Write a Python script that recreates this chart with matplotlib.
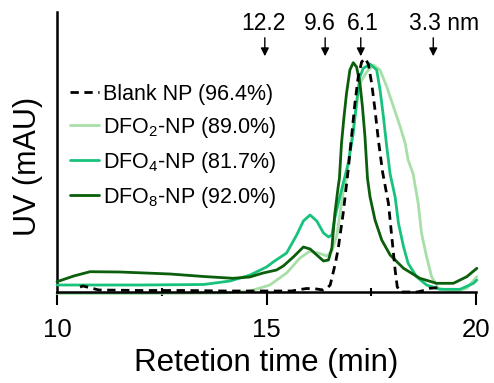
import matplotlib
matplotlib.use("Agg")
import matplotlib.pyplot as plt

plt.rcParams['font.family'] = ['Liberation Sans', 'DejaVu Sans']
plt.rcParams['mathtext.fontset'] = 'custom'
plt.rcParams['mathtext.rm'] = 'Liberation Sans'
plt.rcParams['mathtext.default'] = 'regular'

# ---- data (retention time in min, UV in arbitrary units) ----
blank_t = [10.55, 10.62, 11.0, 12.0, 13.0, 14.0, 15.0, 15.6, 15.8, 15.96, 16.2, 16.35, 16.45, 16.52,
           16.56, 16.64, 16.71, 16.83, 16.95, 17.03, 17.11, 17.19, 17.27, 17.35, 17.43, 17.51, 17.59,
           17.67, 17.77, 17.91, 17.99, 18.07, 18.12, 18.19, 18.6, 18.8, 18.9, 19.2]
blank_v = [5, 6, 2, 1.5, 1.5, 1, 1, 1, 2.5, 3.5, 3, 2, 4, 7,
           14, 28, 43, 78.7, 122, 155.3, 188.7, 215.3, 230, 233.7, 228, 208.7, 182,
           152, 120, 88.7, 55.3, 22, 5.3, 0, 0, 2, 3.7, 4.7]

dfo2_t = [10.0, 12.0, 14.0, 14.61, 15.08, 15.48, 15.8, 16.04, 16.24, 16.44, 16.56, 16.68, 16.75,
          16.83, 16.91, 16.99, 17.11, 17.23, 17.39, 17.55, 17.71, 17.87, 18.03, 18.19, 18.31,
          18.38, 18.5, 18.62, 18.70, 18.82, 18.94, 19.10, 19.46, 19.78, 20.02]
dfo2_v = [-1.5, -1.5, -1, 1, 7, 19, 34, 41, 39, 36, 41, 57, 77,
          100, 113.7, 142, 175.3, 208.7, 220, 227, 222, 205.3, 185.3, 165.3, 148.7,
          132, 118, 88.7, 58.7, 35.3, 15.3, 3.7, 0.3, 3.7, 15.3]

dfo4_t = [10.0, 12.0, 13.5, 14.13, 14.61, 15.0, 15.16, 15.48, 15.72, 15.88, 16.04, 16.2, 16.36,
          16.48, 16.56, 16.63, 16.75, 16.95, 17.07, 17.15, 17.23, 17.31, 17.47, 17.63, 17.71,
          17.79, 17.87, 17.95, 18.07, 18.15, 18.27, 18.38, 18.58, 18.82, 19.14, 19.62, 19.94, 20.02]
dfo4_v = [7, 7, 7.5, 11, 17, 25, 30, 39, 57, 71, 77, 71, 59,
          55, 57, 74, 95, 128.7, 158.7, 190, 215.3, 223.7, 228, 222, 202,
          175.3, 145.3, 118, 95, 68.7, 45.3, 28.7, 15.3, 7, 2.7, 2.7, 8.7, 12]

dfo8_t = [10.0, 10.4, 10.79, 11.5, 12.7, 13.5, 14.2, 14.6, 14.92, 15.24, 15.4, 15.64, 15.88, 16.04,
          16.2, 16.36, 16.48, 16.56, 16.63, 16.71, 16.74, 16.79, 16.85, 16.91, 16.99, 17.07, 17.15,
          17.23, 17.29, 17.35, 17.41, 17.47, 17.59, 17.75, 17.95, 18.27, 18.66, 19.06, 19.46, 19.78, 20.02]
dfo8_v = [10.3, 16, 20.3, 20, 18, 15.5, 13.7, 15, 19, 22, 26, 35, 45, 43,
          37, 31, 32, 44, 78, 105, 113.7, 148.7, 175.3, 198.7, 222, 229.3, 225,
          208.7, 185.3, 155.3, 113.7, 95.3, 72, 52, 37, 23.7, 13.7, 8.7, 8.7, 15.3, 23.7]

series_labels = ['Blank NP (96.4%)', 'DFO$_2$-NP (89.0%)', 'DFO$_4$-NP (81.7%)', 'DFO$_8$-NP (92.0%)']
arrow_x = [14.96, 16.40, 17.25, 18.98]
size_labels = ['12.2', '9.6', '6.1', '3.3 nm']
label_x = [14.92, 16.28, 17.31, 18.41]

# ---- figure ----
fig = plt.figure(figsize=(4.94, 3.83), dpi=100)
ax = fig.add_axes([57/494, 1-292/383, (476-57)/494, (292-12)/383])

kw = dict(lw=2.0, clip_on=False, solid_joinstyle='round', solid_capstyle='round')
ax.plot(blank_t, blank_v, color='black', linestyle=(0, (3, 2)), label=series_labels[0], zorder=5,
        lw=2.0, clip_on=False)
ax.plot(dfo2_t, dfo2_v, color='#a8dfa8', label=series_labels[1], zorder=2, **kw)
ax.plot(dfo4_t, dfo4_v, color='#17c27c', label=series_labels[2], zorder=3, **kw)
ax.plot(dfo8_t, dfo8_v, color='#0b5e0b', label=series_labels[3], zorder=4, **kw)

ax.set_xlim(10, 20)
ax.set_ylim(0, 280)
ax.set_xticks([10, 15, 20])
ax.set_xticks([12.5, 17.5], minor=True)
ax.set_yticks([])
ax.tick_params(axis='x', which='major', direction='out', length=9, width=1.5, labelsize=18.5, pad=10)
ax.tick_params(axis='x', which='minor', direction='inout', length=6, width=1.5)
for s in ['top', 'right']:
    ax.spines[s].set_visible(False)
for s in ['left', 'bottom']:
    ax.spines[s].set_linewidth(1.8)

ax.set_xlabel('Retetion time (min)', fontsize=22.5, labelpad=4)
ax.set_ylabel('UV (mAU)', fontsize=22)
ax.yaxis.set_label_coords(-0.034, 0.45)

for xa in arrow_x:
    ax.annotate('', xy=(xa, 233), xytext=(xa, 257),
                arrowprops=dict(arrowstyle='-|>', color='black', lw=1.0, mutation_scale=12),
                annotation_clip=False)
for xl, txt in zip(label_x, size_labels):
    ha = 'left' if 'nm' in txt else 'center'
    ax.text(xl, 269, txt, ha=ha, va='center', fontsize=16.5, clip_on=False)

leg = ax.legend(loc='upper left', bbox_to_anchor=(70/494, 1-84/383), bbox_transform=fig.transFigure,
                frameon=False, fontsize=15.5, handlelength=1.35, handletextpad=0.2,
                labelspacing=0.46, borderpad=0, borderaxespad=0)

fig.savefig('out.png', dpi=100)
